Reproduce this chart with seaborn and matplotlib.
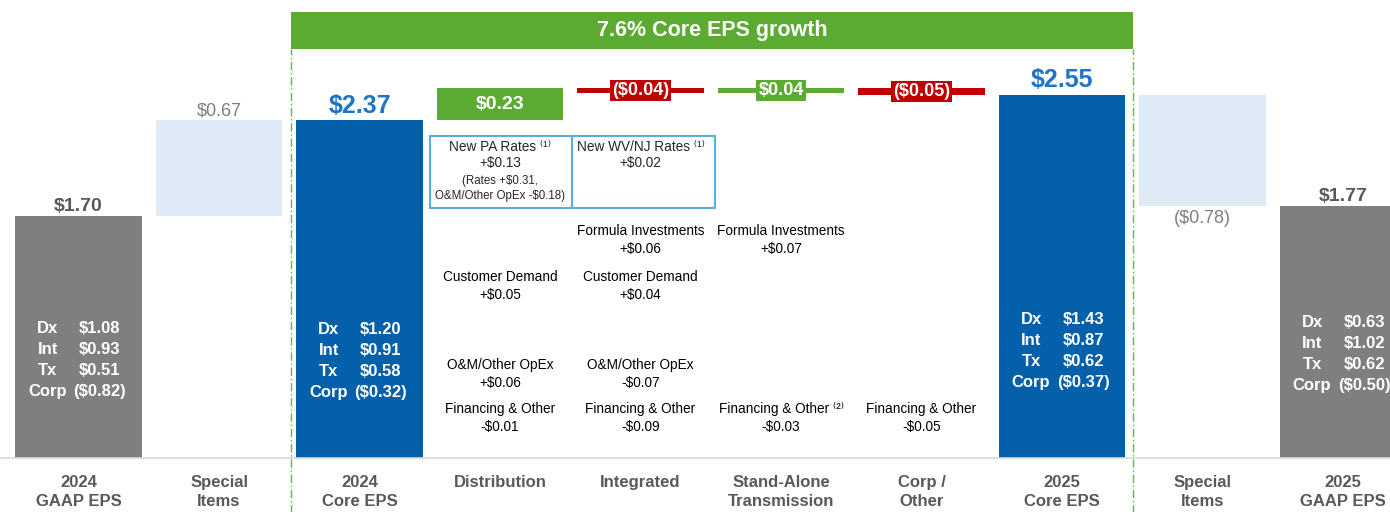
import matplotlib
matplotlib.use('Agg')
import matplotlib.pyplot as plt
import matplotlib.transforms as mtransforms
from matplotlib.patches import Rectangle
import pandas as pd
import seaborn as sns

# ---- data ----
categories = ['2024 GAAP EPS', '2024 Special Items', '2024 Core EPS', 'Distribution',
              'Integrated', 'Stand-Alone Transmission', 'Corp / Other', '2025 Core EPS',
              '2025 Special Items', '2025 GAAP EPS']
tick_labels = ['2024\nGAAP EPS', 'Special\nItems', '2024\nCore EPS', 'Distribution',
               'Integrated', 'Stand-Alone\nTransmission', 'Corp /\nOther', '2025\nCore EPS',
               'Special\nItems', '2025\nGAAP EPS']

gaap_2024 = 1.70
special_2024 = 0.67
core_2024 = 2.37
driver_deltas = [0.23, -0.04, 0.04, -0.05]
core_2025 = 2.55
special_2025 = -0.78
gaap_2025 = 1.77

segment_names = ['Dx', 'Int', 'Tx', 'Corp']
gaap_2024_segments = [1.08, 0.93, 0.51, -0.82]
core_2024_segments = [1.20, 0.91, 0.58, -0.32]
core_2025_segments = [1.43, 0.87, 0.62, -0.37]
gaap_2025_segments = [0.63, 1.02, 0.62, -0.50]

growth_label = '7.6% Core EPS growth'

dist_box = [('New PA Rates \u207d\u00b9\u207e', '+$0.13'), '(Rates +$0.31,\nO&M/Other OpEx -$0.18)']
intg_box = [('New WV/NJ Rates \u207d\u00b9\u207e', '+$0.02')]
dist_notes = [('Customer Demand', '+$0.05'), ('O&M/Other OpEx', '+$0.06'),
              ('Financing & Other', '-$0.01')]
intg_notes = [('Formula Investments', '+$0.06'), ('Customer Demand', '+$0.04'),
              ('O&M/Other OpEx', '-$0.07'), ('Financing & Other', '-$0.09')]
trans_notes = [('Formula Investments', '+$0.07'), ('Financing & Other \u207d\u00b2\u207e', '-$0.03')]
corp_notes = [('Financing & Other', '-$0.05')]


def money(v):
    return f'(${abs(v):.2f})' if v < 0 else f'${v:.2f}'


# ---- build waterfall steps ----
starts = [0, gaap_2024, 0]
deltas = [gaap_2024, special_2024, core_2024]
level = core_2024
for d in driver_deltas:
    starts.append(level)
    deltas.append(d)
    level += d
starts += [0, core_2025, 0]
deltas += [core_2025, special_2025, gaap_2025]
kinds = ['gaap', 'special', 'core'] + ['up' if d > 0 else 'down' for d in driver_deltas] \
    + ['core', 'special', 'gaap']
steps = pd.DataFrame({'category': categories, 'start': starts, 'delta': deltas, 'kind': kinds})
steps['end'] = steps['start'] + steps['delta']

# ---- style ----
GRAY = '#7F7F7F'
DGRAY = '#595959'
LBLUE = '#DEEBF7'
BLUE = '#0460AA'
TBLUE = '#1E74C6'
GREEN = '#5BAB32'
RED = '#C00000'
BOXBLUE = '#5DADE2'
kind_colors = {'gaap': GRAY, 'special': LBLUE, 'core': BLUE, 'up': GREEN, 'down': RED}

sns.set_style('white')
plt.rcParams['font.family'] = ['Liberation Sans', 'DejaVu Sans']

fig = plt.figure(figsize=(13.9, 5.12), dpi=100)
ax = fig.add_axes([0, 54 / 512, 1, 458 / 512])

for kind, color in kind_colors.items():
    sub = steps[steps['kind'] == kind]
    sns.barplot(data=sub, x='category', y='delta', order=categories, color=color,
                saturation=1, width=0.9, errorbar=None, linewidth=0,
                bottom=sub['start'].to_numpy(), ax=ax)

ax.set_xlim(-0.559, 9.334)
ax.set_ylim(0, 3.216)
ax.set_xlabel('')
ax.set_ylabel('')
ax.set_yticks([])
ax.set_xticks(range(len(categories)))
ax.set_xticklabels(tick_labels, fontsize=12, fontweight='bold', color=DGRAY, linespacing=1.4)
ax.tick_params(axis='x', length=0, pad=12)
for s in ['top', 'right', 'left']:
    ax.spines[s].set_visible(False)
ax.spines['bottom'].set_color('#D9D9D9')
ax.spines['bottom'].set_linewidth(1.2)

# ---- value labels ----
for i, row in steps.iterrows():
    top = max(row['start'], row['end'])
    if row['kind'] == 'gaap':
        ax.annotate(money(row['delta']), (i, top), xytext=(0, 1), textcoords='offset points',
                    ha='center', va='bottom', fontsize=14, fontweight='bold', color=DGRAY)
    elif row['kind'] == 'core':
        ax.annotate(money(row['delta']), (i, top), xytext=(0, 2), textcoords='offset points',
                    ha='center', va='bottom', fontsize=18, fontweight='bold', color=TBLUE)
    elif row['kind'] == 'special':
        if row['delta'] > 0:
            ax.annotate(money(row['delta']), (i, row['end']), xytext=(0, 1),
                        textcoords='offset points', ha='center', va='bottom',
                        fontsize=13, color=GRAY)
        else:
            ax.annotate(money(row['delta']), (i, row['end']), xytext=(0, -3),
                        textcoords='offset points', ha='center', va='top',
                        fontsize=13, color=GRAY)
    else:
        mid = row['start'] + row['delta'] / 2
        color = GREEN if row['kind'] == 'up' else RED
        if abs(row['delta']) >= 0.1:
            ax.text(i, mid, money(row['delta']), ha='center', va='center',
                    fontsize=14, fontweight='bold', color='white')
        else:
            ax.text(i, mid, money(row['delta']), ha='center', va='center',
                    fontsize=13, fontweight='bold', color='white',
                    bbox=dict(boxstyle='square,pad=0.12', fc=color, ec='none'))

# ---- segment breakdown inside total bars ----
segment_sets = [(0, gaap_2024_segments, 0.91), (2, core_2024_segments, 0.90),
                (7, core_2025_segments, 0.97), (9, gaap_2025_segments, 0.95)]
for i, vals, y0 in segment_sets:
    for k, (name, v) in enumerate(zip(segment_names, vals)):
        y = y0 - k * 0.147
        ax.text(i - 0.22, y, name, ha='center', va='center', fontsize=12,
                fontweight='bold', color='white')
        ax.text(i + 0.15, y, money(v), ha='center', va='center', fontsize=12,
                fontweight='bold', color='white')

# ---- driver notes ----
note_rows = {'Formula Investments': 1.53, 'Customer Demand': 1.21,
             'O&M/Other OpEx': 0.59, 'Financing & Other': 0.28}
for i, notes in [(3, dist_notes), (4, intg_notes), (5, trans_notes), (6, corp_notes)]:
    for label, val in notes:
        y = note_rows[label.split(' \u207d')[0]]
        ax.text(i, y, f'{label}\n{val}', ha='center', va='center', fontsize=9.8,
                color='black', linespacing=1.35)

box_bottom, box_top = 1.756, 2.261
ax.add_patch(Rectangle((2.5, box_bottom), 1.01, box_top - box_bottom, fill=False,
                       ec=BOXBLUE, lw=1.5))
ax.add_patch(Rectangle((3.51, box_bottom), 1.02, box_top - box_bottom, fill=False,
                       ec=BOXBLUE, lw=1.5))
ax.text(3, 2.128, f'{dist_box[0][0]}\n{dist_box[0][1]}', ha='center', va='center',
        fontsize=9.8, linespacing=1.25)
ax.text(3, 1.893, dist_box[1], ha='center', va='center', fontsize=8.3, linespacing=1.4)
ax.text(4, 2.128, f'{intg_box[0][0]}\n{intg_box[0][1]}', ha='center', va='center',
        fontsize=9.8, linespacing=1.25)

# ---- growth banner and bracket lines ----
trans = mtransforms.blended_transform_factory(ax.transData, ax.transAxes)
ax.add_patch(Rectangle((1.51, 0.893), 5.995, 0.081, transform=trans, fc=GREEN,
                       ec='none', clip_on=False))
ax.text(4.51, 0.934, growth_label, transform=trans, ha='center', va='center',
        fontsize=15.5, fontweight='bold', color='white')
for xv in [1.51, 7.505]:
    ax.axvline(xv, ymin=-0.12, ymax=0.893, color='#6DB543', lw=1,
               linestyle=(0, (6, 2, 1, 2)), clip_on=False)

fig.savefig('out.png', dpi=100)
